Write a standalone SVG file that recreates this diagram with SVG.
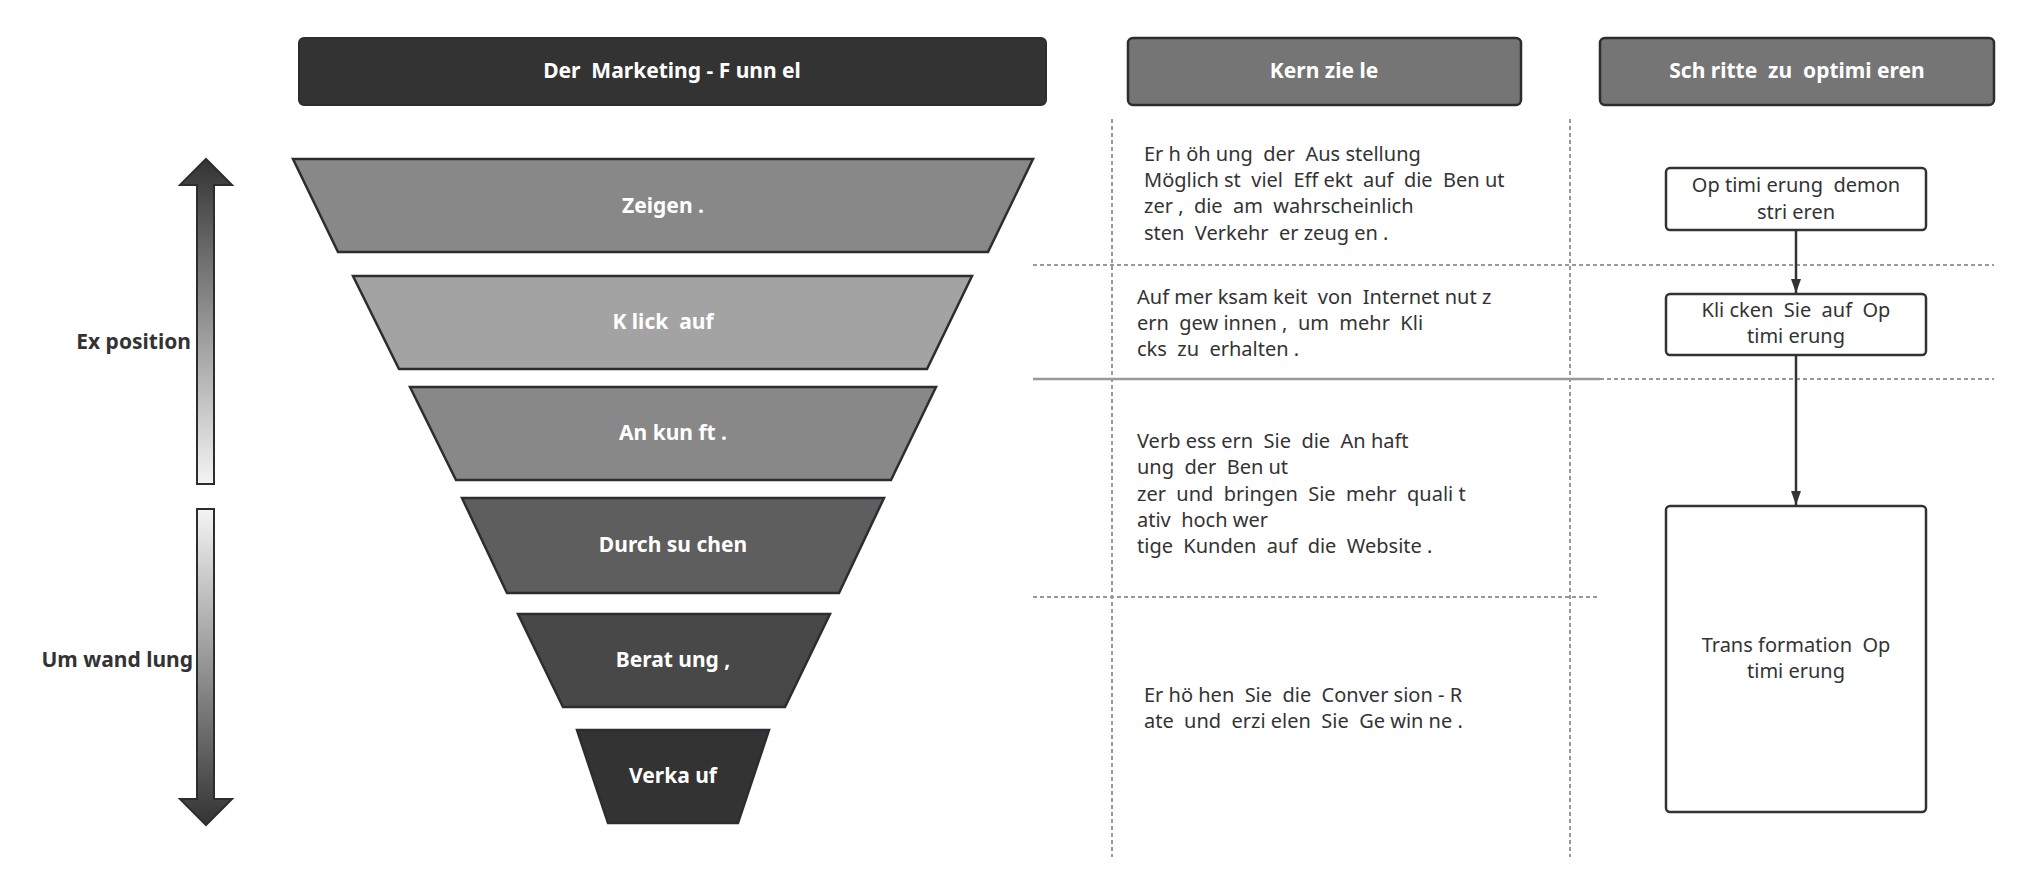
<svg xmlns="http://www.w3.org/2000/svg" width="2030" height="893" viewBox="0 0 2030 893" xml:space="preserve">
<style>
text{white-space:pre}
.h{font-family:"Noto Sans","Liberation Sans",sans-serif;font-size:21px;font-weight:bold;fill:#fff;text-anchor:middle}
.f{font-family:"Noto Sans","Liberation Sans",sans-serif;font-size:21px;font-weight:bold;fill:#fff;text-anchor:middle}
.lab{font-family:"Noto Sans","Liberation Sans",sans-serif;font-size:21px;font-weight:bold;fill:#333;text-anchor:end}
.t{font-family:"Noto Sans","Liberation Sans",sans-serif;font-size:20px;fill:#333}
.c{font-family:"Noto Sans","Liberation Sans",sans-serif;font-size:20px;fill:#333;text-anchor:middle}
.tr{stroke:#2a2e33;stroke-width:2.5}
.d{stroke:#999;stroke-width:2;stroke-dasharray:4 3;fill:none}
.box{fill:#fff;stroke:#333;stroke-width:2.5}
</style>
<defs>
<linearGradient id="gu" x1="0" y1="0" x2="0" y2="1"><stop offset="0" stop-color="#333"/><stop offset="1" stop-color="#f4f4f4"/></linearGradient>
<linearGradient id="gd" x1="0" y1="0" x2="0" y2="1"><stop offset="0" stop-color="#f4f4f4"/><stop offset="1" stop-color="#333"/></linearGradient>
<marker id="ah" markerWidth="14" markerHeight="20" refX="14" refY="7" orient="auto" markerUnits="userSpaceOnUse" viewBox="0 0 14 14"><path d="M0,2 L14,7 L0,12 z" fill="#333"/></marker>
</defs>
<g id="grid">
<line class="d" x1="1112" y1="119" x2="1112" y2="857"/>
<line class="d" x1="1570" y1="119" x2="1570" y2="857"/>
<line class="d" x1="1033" y1="265" x2="1994" y2="265"/>
<line class="d" x1="1033" y1="379" x2="1994" y2="379"/>
<line x1="1033" y1="379" x2="1600" y2="379" stroke="#999" stroke-width="2.5"/>
<line class="d" x1="1033" y1="597" x2="1600" y2="597"/>
</g>
<g id="h1"><rect x="299" y="38" width="747" height="67" rx="5" fill="#333" stroke="#2a2e33" stroke-width="2"/><text class="h" x="672" y="78">Der  Marketing - F unn el</text></g>
<g id="h2"><rect x="1128" y="38" width="393" height="67" rx="5" fill="#757575" stroke="#2a2e33" stroke-width="2.5"/><text class="h" x="1324" y="78">Kern zie le</text></g>
<g id="h3"><rect x="1600" y="38" width="394" height="67" rx="5" fill="#757575" stroke="#2a2e33" stroke-width="2.5"/><text class="h" x="1797" y="78">Sch ritte  zu  optimi eren</text></g>
<g id="f1"><polygon class="tr" points="293,159 1033,159 988,252 338,252" fill="#888"/><text class="f" x="663" y="213">Zeigen .</text></g>
<g id="f2"><polygon class="tr" points="353,276 972,276 927,369 399,369" fill="#a3a3a3"/><text class="f" x="663" y="329">K lick  auf</text></g>
<g id="f3"><polygon class="tr" points="410,387 936,387 891,480 456,480" fill="#888"/><text class="f" x="673" y="440">An kun ft .</text></g>
<g id="f4"><polygon class="tr" points="462,498 884,498 839,593 507,593" fill="#5e5e5e"/><text class="f" x="673" y="552">Durch su chen</text></g>
<g id="f5"><polygon class="tr" points="518,614 830,614 785,707 563,707" fill="#484848"/><text class="f" x="673" y="667">Berat ung ,</text></g>
<g id="f6"><polygon class="tr" points="577,730 769,730 738,823 608,823" fill="#333"/><text class="f" x="673" y="783">Verka uf</text></g>
<g id="aup"><polygon points="197,484 197,185 180,185 206,159 232,185 214,185 214,484" fill="url(#gu)" stroke="#2a2e33" stroke-width="2"/><text class="lab" x="191" y="349">Ex position</text></g>
<g id="adown"><polygon points="197,509 214,509 214,799 232,799 206,825 180,799 197,799" fill="url(#gd)" stroke="#2a2e33" stroke-width="2"/><text class="lab" x="193" y="667">Um wand lung</text></g>
<g id="k1"><text class="t" x="1144" y="161">Er h öh ung  der  Aus stellung</text><text class="t" x="1144" y="187">Möglich st  viel  Eff ekt  auf  die  Ben ut</text><text class="t" x="1144" y="213">zer ,  die  am  wahrscheinlich</text><text class="t" x="1144" y="240">sten  Verkehr  er zeug en .</text></g>
<g id="k2"><text class="t" x="1137" y="304">Auf mer ksam keit  von  Internet nut z</text><text class="t" x="1137" y="330">ern  gew innen ,  um  mehr  Kli</text><text class="t" x="1137" y="356">cks  zu  erhalten .</text></g>
<g id="k3"><text class="t" x="1137" y="448">Verb ess ern  Sie  die  An haft</text><text class="t" x="1137" y="474">ung  der  Ben ut</text><text class="t" x="1137" y="501">zer  und  bringen  Sie  mehr  quali t</text><text class="t" x="1137" y="527">ativ  hoch wer</text><text class="t" x="1137" y="553">tige  Kunden  auf  die  Website .</text></g>
<g id="k4"><text class="t" x="1144" y="702">Er hö hen  Sie  die  Conver sion - R</text><text class="t" x="1144" y="728">ate  und  erzi elen  Sie  Ge win ne .</text></g>
<g id="connectors">
<line x1="1796" y1="230" x2="1796" y2="293" stroke="#333" stroke-width="2.5" marker-end="url(#ah)"/>
<line x1="1796" y1="355" x2="1796" y2="505" stroke="#333" stroke-width="2.5" marker-end="url(#ah)"/>
</g>
<g id="s1"><rect class="box" x="1666" y="168" width="260" height="62" rx="4"/><text class="c" x="1796" y="192">Op timi erung  demon</text><text class="c" x="1796" y="219">stri eren</text></g>
<g id="s2"><rect class="box" x="1666" y="294" width="260" height="61" rx="4"/><text class="c" x="1796" y="317">Kli cken  Sie  auf  Op</text><text class="c" x="1796" y="343">timi erung</text></g>
<g id="s3"><rect class="box" x="1666" y="506" width="260" height="306" rx="4"/><text class="c" x="1796" y="652">Trans formation  Op</text><text class="c" x="1796" y="678">timi erung</text></g>
</svg>
